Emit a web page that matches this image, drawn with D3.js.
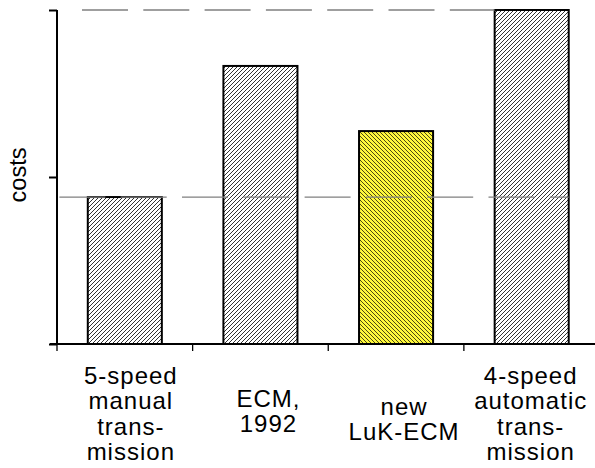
<!DOCTYPE html>
<html>
<head>
<meta charset="utf-8">
<script src="https://cdn.jsdelivr.net/npm/d3@7"></script>
<style>
  html, body { margin: 0; padding: 0; background: #fff; }
  svg { display: block; }
  text { font-family: "Liberation Sans", Arial, Helvetica, sans-serif; fill: #000; }
</style>
</head>
<body>
<svg id="chart" width="595" height="468"></svg>
<script>
// Cost comparison of transmission concepts
const categories = [
  ["5-speed", "manual", "trans-", "mission"],
  ["ECM,", "1992"],
  ["new", "LuK-ECM"],
  ["4-speed", "automatic", "trans-", "mission"]
];
const costs = [0.88, 1.665, 1.275, 2.0];
const yTicks = [0, 1, 2];
const yLabel = "costs";
// reference levels: manual transmission cost and automatic transmission cost
const refLevels = [costs[0], costs[3]];

const svg = d3.select("#chart");

const x = d3.scaleBand()
  .domain(d3.range(categories.length))
  .range([57, 599.5])
  .paddingInner(0.454)
  .paddingOuter(0.227);

const y = d3.scaleLinear().domain([0, 2]).range([344, 10]);

// hatch patterns
const defs = svg.append("defs");
const fwd = defs.append("pattern")
  .attr("id", "hatchFwd").attr("patternUnits", "userSpaceOnUse")
  .attr("width", 4).attr("height", 4);
fwd.append("rect").attr("width", 4).attr("height", 4).attr("fill", "#fff");
fwd.append("path").attr("d", "M-1,1 l2,-2 M0,4 l4,-4 M3,5 l2,-2")
  .attr("stroke", "#000").attr("stroke-width", 0.8)
  .attr("shape-rendering", "crispEdges");

const back = defs.append("pattern")
  .attr("id", "hatchBack").attr("patternUnits", "userSpaceOnUse")
  .attr("width", 4).attr("height", 4);
back.append("rect").attr("width", 4).attr("height", 4).attr("fill", "#fff83c");
back.append("path").attr("d", "M-1,3 l2,2 M0,0 l4,4 M3,-1 l2,2")
  .attr("stroke", "#000").attr("stroke-width", 0.7)
  .attr("shape-rendering", "crispEdges");

// bars
svg.append("g").selectAll("rect")
  .data(costs)
  .join("rect")
  .attr("x", (d, i) => x(i))
  .attr("y", d => y(d))
  .attr("width", x.bandwidth())
  .attr("height", d => y(0) - y(d))
  .attr("fill", (d, i) => i === 2 ? "url(#hatchBack)" : "url(#hatchFwd)")
  .attr("stroke", "#000")
  .attr("stroke-width", 2);

// dashed reference lines
const dash = "46,15.3";
svg.append("line")
  .attr("x1", 57).attr("x2", x(3) + x.bandwidth())
  .attr("y1", y(refLevels[0])).attr("y2", y(refLevels[0]))
  .attr("stroke", "#808080").attr("stroke-width", 1.3)
  .attr("stroke-dasharray", dash).attr("stroke-dashoffset", -2.4);
svg.append("line")
  .attr("x1", 82).attr("x2", x(3))
  .attr("y1", y(refLevels[1])).attr("y2", y(refLevels[1]))
  .attr("stroke", "#808080").attr("stroke-width", 1.3)
  .attr("stroke-dasharray", dash);

// y axis
const yAxis = svg.append("g")
  .attr("transform", "translate(57,0)")
  .call(d3.axisLeft(y).tickValues(yTicks).tickSize(8).tickFormat(""));
yAxis.select(".domain").attr("d", `M0,${y(2)}V${y(0)}`).attr("stroke-width", 2);
yAxis.selectAll(".tick line").attr("stroke-width", 2);

// x axis with category boundary ticks
const gap = (x.step() - x.bandwidth()) / 2;
const bounds = d3.range(categories.length).map(i => x(i) - gap);
const xg = svg.append("g");
xg.append("line")
  .attr("x1", 50).attr("x2", 595)
  .attr("y1", y(0)).attr("y2", y(0))
  .attr("stroke", "#000").attr("stroke-width", 2);
xg.selectAll(".bt")
  .data(bounds)
  .join("line")
  .attr("class", "bt")
  .attr("x1", d => d).attr("x2", d => d)
  .attr("y1", y(0)).attr("y2", y(0) + 7)
  .attr("stroke", "#000").attr("stroke-width", 1.3);

// category labels
const labelDx = [6, 8, 8, -1];
const labelTop = [384, 407, 415, 384];
const lineH = 25.3;
categories.forEach((lines, i) => {
  const cx = x(i) + x.bandwidth() / 2 + labelDx[i];
  const t = svg.append("text")
    .attr("text-anchor", "middle")
    .attr("font-size", 24)
    .attr("letter-spacing", 1);
  lines.forEach((ln, j) => {
    t.append("tspan")
      .attr("x", cx)
      .attr("y", labelTop[i] + j * lineH)
      .text(ln);
  });
});

// y axis title
svg.append("text")
  .attr("transform", "translate(26,175) rotate(-90)")
  .attr("text-anchor", "middle")
  .attr("font-size", 23.5)
  .text(yLabel);
</script>
</body>
</html>
